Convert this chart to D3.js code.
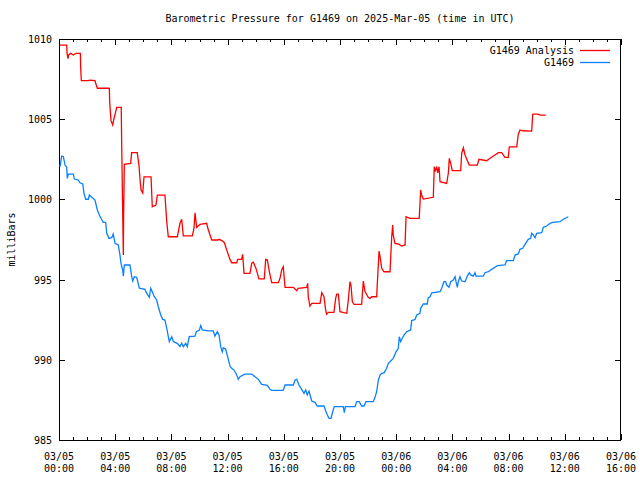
<!DOCTYPE html>
<html>
<head>
<meta charset="utf-8">
<script src="https://cdn.jsdelivr.net/npm/d3@7"></script>
<style>
  html, body { margin: 0; padding: 0; background: #fff; }
  text { font-family: "DejaVu Sans Mono", monospace; font-size: 10px; fill: #000; }
</style>
</head>
<body>
<div id="chart"></div>
<script>
// time is hours since 2025-03-05 00:00 UTC, pressure in mb
const analysis = [
  [0.07,1009.62],[0.55,1009.62],[0.57,1009.13],[0.64,1008.77],[0.68,1009.0],[0.83,1009.11],
  [1.02,1009.0],[1.21,1009.11],[1.52,1009.11],[1.54,1008.25],[1.59,1007.4],[2.06,1007.4],
  [2.21,1007.44],[2.56,1007.4],[2.6,1007.27],[2.73,1006.93],[3.58,1006.93],[3.61,1006.03],
  [3.7,1004.91],[3.82,1004.64],[3.89,1004.95],[3.99,1005.3],[4.11,1005.74],[4.43,1005.74],
  [4.46,1003.51],[4.52,1000.0],[4.58,996.53],[4.6,999.03],[4.65,1002.19],[5.1,1002.25],
  [5.17,1002.91],[5.57,1002.91],[5.69,1002.14],[5.77,1001.21],[5.84,1000.59],[5.96,1000.4],
  [6.05,1001.41],[6.55,1001.41],[6.64,999.54],[6.9,999.65],[7.0,1000.27],[7.54,1000.27],
  [7.67,998.61],[7.78,997.67],[8.42,997.67],[8.61,998.51],[8.73,998.76],[8.85,997.72],
  [9.49,997.72],[9.61,998.22],[9.68,999.17],[9.8,998.26],[10.04,998.45],[10.51,998.51],
  [10.63,998.09],[10.87,997.47],[11.3,997.47],[11.39,997.51],[11.62,997.42],[11.77,997.3],
  [11.94,996.84],[12.17,996.26],[12.29,996.05],[12.65,996.05],[12.72,996.26],[13.0,996.26],
  [13.07,996.58],[13.17,995.39],[13.59,995.39],[13.72,996.02],[13.83,996.08],[14.02,995.7],
  [14.23,995.04],[14.61,995.04],[14.71,996.26],[14.83,996.22],[14.97,995.49],[15.14,994.81],
  [15.61,994.81],[15.73,995.08],[15.85,995.6],[15.96,995.8],[16.09,994.52],[16.68,994.52],
  [16.92,994.31],[17.03,994.46],[17.63,994.52],[17.7,994.77],[17.74,993.93],[17.86,993.35],
  [17.99,993.52],[18.58,993.52],[18.7,994.18],[18.86,993.93],[18.98,993.1],[19.05,992.84],
  [19.17,992.96],[19.57,992.96],[19.69,993.83],[19.77,994.1],[19.88,994.1],[20.0,993.0],
  [20.48,992.9],[20.59,993.73],[20.71,994.87],[20.78,994.66],[20.88,993.62],[21.0,993.46],
  [21.54,993.46],[21.66,994.91],[21.78,994.25],[22.01,993.9],[22.14,993.83],[22.26,993.93],
  [22.61,993.93],[22.65,994.66],[22.78,996.78],[22.85,996.43],[22.97,995.7],[23.13,995.49],
  [23.56,995.49],[23.68,997.67],[23.75,998.4],[23.79,997.78],[23.91,997.26],[24.15,997.22],
  [24.39,997.09],[24.63,997.16],[24.7,998.92],[24.98,998.82],[25.64,998.82],[25.74,1000.59],
  [25.81,1000.27],[25.93,1000.02],[26.64,1000.13],[26.71,1002.04],[26.76,1001.73],[26.88,1002.04],
  [26.95,1001.66],[27.05,1002.04],[27.12,1001.1],[27.59,1001.0],[27.71,1001.63],[27.78,1002.56],
  [27.88,1002.25],[27.99,1001.79],[28.59,1001.79],[28.66,1002.87],[28.78,1003.22],[28.9,1002.77],
  [29.2,1002.14],[29.77,1002.14],[29.89,1002.5],[30.44,1002.41],[30.68,1002.56],[31.03,1002.77],
  [31.27,1002.91],[31.51,1002.91],[31.74,1002.62],[31.98,1002.62],[32.05,1003.28],[32.58,1003.28],
  [32.69,1004.06],[32.81,1004.33],[33.0,1004.28],[33.64,1004.26],[33.72,1005.32],[34.11,1005.32],
  [34.23,1005.26],[34.64,1005.26]
];

const observed = [
  [0.07,1002.04],[0.19,1002.7],[0.31,1002.66],[0.43,1002.14],[0.55,1002.0],[0.59,1001.31],
  [0.66,1001.58],[1.02,1001.58],[1.09,1001.27],[1.37,1001.21],[1.49,1001.04],[1.69,1000.96],
  [1.78,1000.38],[1.9,1000.01],[2.09,1000.01],[2.16,1000.27],[2.33,1000.13],[2.56,999.96],
  [2.73,999.34],[2.87,999.03],[3.04,998.75],[3.15,998.57],[3.32,998.57],[3.4,997.89],
  [3.56,997.57],[3.75,997.61],[3.86,997.84],[3.99,997.26],[4.22,997.16],[4.34,996.53],
  [4.41,996.02],[4.53,995.6],[4.58,995.22],[4.65,995.91],[5.05,995.91],[5.17,995.22],
  [5.25,994.91],[5.36,995.18],[5.53,995.14],[5.72,994.46],[6.12,994.39],[6.24,994.15],
  [6.43,993.9],[6.53,994.46],[6.67,994.18],[6.78,993.93],[6.95,993.73],[7.07,993.31],
  [7.24,992.79],[7.38,992.52],[7.54,992.48],[7.67,991.96],[7.78,991.44],[7.85,991.13],
  [8.02,991.44],[8.14,991.13],[8.42,991.03],[8.61,990.82],[8.73,991.03],[8.85,990.82],
  [9.02,991.03],[9.13,990.82],[9.27,991.44],[9.68,991.48],[9.77,991.75],[9.99,991.86],
  [10.09,992.13],[10.2,991.86],[10.63,991.8],[10.98,991.8],[11.1,991.48],[11.27,991.75],
  [11.39,991.55],[11.51,990.82],[11.62,990.5],[11.69,990.75],[11.86,990.67],[12.05,990.03],
  [12.17,989.61],[12.29,989.47],[12.46,989.36],[12.65,989.05],[12.76,988.78],[12.88,988.95],
  [13.24,989.11],[13.72,989.11],[13.95,988.95],[14.19,988.78],[14.43,988.47],[14.83,988.41],
  [15.02,988.16],[15.14,988.1],[15.96,988.1],[16.09,988.43],[16.68,988.43],[16.8,988.74],
  [16.92,988.78],[17.08,988.43],[17.27,988.16],[17.44,987.91],[17.56,988.12],[17.67,987.81],
  [17.79,988.05],[17.99,987.43],[18.22,987.35],[18.38,987.12],[18.86,987.12],[18.98,986.83],
  [19.1,986.56],[19.22,986.35],[19.36,986.35],[19.48,986.76],[19.59,987.08],[20.23,987.08],
  [20.31,986.7],[20.38,987.08],[21.07,987.08],[21.19,987.39],[21.37,987.39],[21.54,987.12],
  [21.71,987.12],[21.85,987.39],[22.37,987.39],[22.49,987.66],[22.61,988.01],[22.73,988.74],
  [22.85,989.05],[22.97,989.16],[23.15,989.2],[23.32,989.47],[23.44,989.78],[23.56,989.88],
  [23.79,990.09],[23.99,990.5],[24.15,990.72],[24.22,991.44],[24.32,991.13],[24.43,991.34],
  [24.56,991.55],[24.75,991.75],[25.03,991.86],[25.1,992.44],[25.34,992.52],[25.46,992.79],
  [25.69,992.9],[25.74,993.21],[25.93,993.48],[26.21,993.48],[26.28,993.87],[26.41,993.93],
  [26.53,994.18],[27.12,994.25],[27.24,994.46],[27.4,994.87],[27.52,994.87],[27.59,994.66],
  [27.76,994.52],[27.88,994.87],[28.06,994.97],[28.19,995.18],[28.26,994.87],[28.35,994.52],
  [28.42,994.87],[28.54,995.18],[28.66,994.91],[28.9,994.87],[29.06,995.22],[29.2,995.43],
  [29.3,995.29],[29.49,995.22],[29.61,995.43],[29.68,995.22],[30.2,995.22],[30.32,995.43],
  [30.56,995.49],[30.8,995.64],[31.03,995.77],[31.2,995.87],[31.74,995.91],[31.86,996.18],
  [32.34,996.18],[32.46,996.53],[32.69,996.6],[32.81,996.89],[33.0,996.95],[33.17,997.2],
  [33.4,997.51],[33.57,997.57],[33.64,997.89],[33.76,997.78],[33.88,997.61],[34.0,997.89],
  [34.36,997.93],[34.47,998.26],[34.71,998.34],[34.95,998.51],[35.14,998.57],[35.66,998.61],
  [35.89,998.76],[36.25,998.92]
];

const seriesNames = ["G1469 Analysis", "G1469"];
const seriesColors = ["#ff0000", "#0a80ff"];
const yTicks = [985, 990, 995, 1000, 1005, 1010];
const xMajorHours = [0, 4, 8, 12, 16, 20, 24, 28, 32, 36, 40];

const width = 640, height = 480;
const margin = { top: 39, right: 19, bottom: 40, left: 59 };

const startMs = Date.UTC(2025, 2, 5);
const toDate = (h) => new Date(startMs + h * 3600e3);

const x = d3.scaleUtc()
  .domain([toDate(0), toDate(40)])
  .range([margin.left, width - margin.right]);
const y = d3.scaleLinear()
  .domain([985, 1010])
  .range([height - margin.bottom, margin.top]);

const svg = d3.select("#chart").append("svg")
  .attr("width", width)
  .attr("height", height);

// title + y label
svg.append("text")
  .attr("x", (margin.left + width - margin.right) / 2)
  .attr("y", 22)
  .attr("text-anchor", "middle")
  .text("Barometric Pressure for G1469 on 2025-Mar-05 (time in UTC)");

svg.append("text")
  .attr("transform", `translate(15, ${(margin.top + height - margin.bottom) / 2}) rotate(-90)`)
  .attr("text-anchor", "middle")
  .text("milliBars");

// axes, gnuplot style: ticks pointing in, mirrored on top/right
const hourTicks = d3.range(0, 41).map(toDate);
const majorTicks = xMajorHours.map(toDate);

function xTicks(axisFn, yPos) {
  svg.append("g")
    .attr("transform", `translate(0,${yPos})`)
    .call(axisFn(x).tickValues(hourTicks).tickSize(-3).tickFormat(""))
    .call((g) => g.select(".domain").remove());
  svg.append("g")
    .attr("transform", `translate(0,${yPos})`)
    .call(axisFn(x).tickValues(majorTicks).tickSize(-6).tickFormat(""))
    .call((g) => g.select(".domain").remove());
}
xTicks(d3.axisBottom, height - margin.bottom);
xTicks(d3.axisTop, margin.top);

const yLeft = svg.append("g")
  .attr("transform", `translate(${margin.left},0)`)
  .call(d3.axisLeft(y).tickValues(yTicks).tickSize(-6).tickPadding(7).tickFormat(d3.format("d")))
  .call((g) => g.select(".domain").remove());
yLeft.selectAll("text").attr("dy", "0.35em");

svg.append("g")
  .attr("transform", `translate(${width - margin.right},0)`)
  .call(d3.axisRight(y).tickValues(yTicks).tickSize(-6).tickFormat(""))
  .call((g) => g.select(".domain").remove());

svg.selectAll(".tick line")
  .attr("stroke", "#000")
  .attr("shape-rendering", "crispEdges");
svg.selectAll(".tick text").style("font-family", null).style("font-size", null).attr("font-family", null).attr("font-size", null);

// x labels on two lines
const fmtDay = d3.utcFormat("%m/%d"), fmtTime = d3.utcFormat("%H:%M");
const xl = svg.append("g").selectAll("text")
  .data(majorTicks)
  .join("text")
  .attr("text-anchor", "middle")
  .attr("x", (d) => x(d));
xl.append("tspan").attr("x", (d) => x(d)).attr("y", 460).text(fmtDay);
xl.append("tspan").attr("x", (d) => x(d)).attr("y", 472).text(fmtTime);

// border
svg.append("rect")
  .attr("x", margin.left + 0.5)
  .attr("y", margin.top + 0.5)
  .attr("width", width - margin.left - margin.right - 1)
  .attr("height", height - margin.top - margin.bottom)
  .attr("fill", "none")
  .attr("stroke", "#000")
  .attr("shape-rendering", "crispEdges");

// data lines
const line = d3.line()
  .x((d) => x(toDate(d[0])))
  .y((d) => y(d[1]));

[analysis, observed].forEach((data, i) => {
  svg.append("path")
    .datum(data)
    .attr("fill", "none")
    .attr("stroke", seriesColors[i])
    .attr("stroke-width", 1.3)
    .attr("d", line);
});

// legend
const legend = svg.append("g").selectAll("g")
  .data(seriesNames)
  .join("g")
  .attr("transform", (d, i) => `translate(0, ${50 + i * 12})`);
legend.append("text")
  .attr("x", 574)
  .attr("dy", "0.35em")
  .attr("text-anchor", "end")
  .text((d) => d);
legend.append("line")
  .attr("x1", 580).attr("x2", 610)
  .attr("y1", 0.5).attr("y2", 0.5)
  .attr("stroke", (d, i) => seriesColors[i])
  .attr("stroke-width", 1.3);
</script>
</body>
</html>
